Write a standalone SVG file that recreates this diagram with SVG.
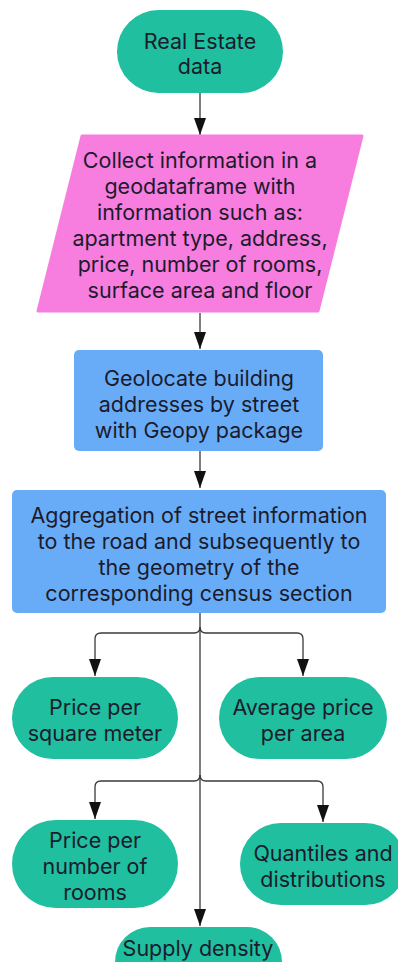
<svg xmlns="http://www.w3.org/2000/svg" width="398" height="962" viewBox="0 0 398 962">
  <style>
    .term { fill: #1fbf9f; }
    .proc { fill: #68acf8; }
    .io { fill: #f77ddf; stroke: #f77ddf; stroke-width: 3; stroke-linejoin: round; }
    .label { font-family: Inter, "Noto Sans", "Liberation Sans", sans-serif; font-size: 21.5px; fill: #1b1b2c; text-anchor: middle; }
    .edge { fill: none; stroke: #3a3a3a; stroke-width: 1.3; }
  </style>
  <defs>
    <marker id="head" markerUnits="userSpaceOnUse" markerWidth="12" markerHeight="17" refX="6" refY="17" orient="0" viewBox="0 0 12 17">
      <path d="M0 0 L12 0 L6 17 Z" fill="#111"/>
    </marker>
  </defs>

  <g id="connectors">
    <path class="edge" d="M200 93 V135" marker-end="url(#head)"/>
    <path class="edge" d="M200 313 V349" marker-end="url(#head)"/>
    <path class="edge" d="M200 451 V488" marker-end="url(#head)"/>
    <path class="edge" d="M200 613 V926" marker-end="url(#head)"/>
    <path class="edge" d="M200 627 Q200 633 194 633 H101 Q95 633 95 639 V676" marker-end="url(#head)"/>
    <path class="edge" d="M200 627 Q200 633 206 633 H297 Q303 633 303 639 V676" marker-end="url(#head)"/>
    <path class="edge" d="M200 775 Q200 781 194 781 H101 Q95 781 95 787 V819" marker-end="url(#head)"/>
    <path class="edge" d="M200 775 Q200 781 206 781 H317 Q323 781 323 787 V822" marker-end="url(#head)"/>
  </g>

  <g id="real-estate-data">
    <rect class="term" x="117" y="10" width="166" height="83" rx="41.5"/>
    <text class="label" x="200" y="49">Real Estate</text>
    <text class="label" x="200" y="74">data</text>
  </g>

  <g id="collect-information">
    <polygon class="io" points="82,136 362,136 318,311 38,311"/>
    <text class="label" x="200" y="168">Collect information in a</text>
    <text class="label" x="200" y="194">geodataframe with</text>
    <text class="label" x="200" y="220">information such as:</text>
    <text class="label" x="200" y="246">apartment type, address,</text>
    <text class="label" x="200" y="272">price, number of rooms,</text>
    <text class="label" x="200" y="298">surface area and floor</text>
  </g>

  <g id="geolocate">
    <rect class="proc" x="74" y="350" width="249" height="101" rx="5"/>
    <text class="label" x="199" y="386">Geolocate building</text>
    <text class="label" x="199" y="412">addresses by street</text>
    <text class="label" x="199" y="438">with Geopy package</text>
  </g>

  <g id="aggregation">
    <rect class="proc" x="12" y="490" width="374" height="123" rx="5"/>
    <text class="label" x="199" y="523">Aggregation of street information</text>
    <text class="label" x="199" y="549">to the road and subsequently to</text>
    <text class="label" x="199" y="575">the geometry of the</text>
    <text class="label" x="199" y="601">corresponding census section</text>
  </g>

  <g id="price-per-square-meter">
    <rect class="term" x="12" y="677" width="166" height="82" rx="41"/>
    <text class="label" x="95" y="715">Price per</text>
    <text class="label" x="95" y="741">square meter</text>
  </g>

  <g id="average-price-per-area">
    <rect class="term" x="219" y="677" width="168" height="82" rx="41"/>
    <text class="label" x="303" y="715">Average price</text>
    <text class="label" x="303" y="741">per area</text>
  </g>

  <g id="price-per-rooms">
    <rect class="term" x="12" y="820" width="166" height="88" rx="44"/>
    <text class="label" x="95" y="848">Price per</text>
    <text class="label" x="95" y="874">number of</text>
    <text class="label" x="95" y="900">rooms</text>
  </g>

  <g id="quantiles">
    <rect class="term" x="240" y="823" width="166" height="82" rx="41"/>
    <text class="label" x="323" y="861">Quantiles and</text>
    <text class="label" x="323" y="887">distributions</text>
  </g>

  <g id="supply-density">
    <rect class="term" x="115" y="927" width="167" height="70" rx="35"/>
    <text class="label" x="198" y="956">Supply density</text>
  </g>
</svg>
